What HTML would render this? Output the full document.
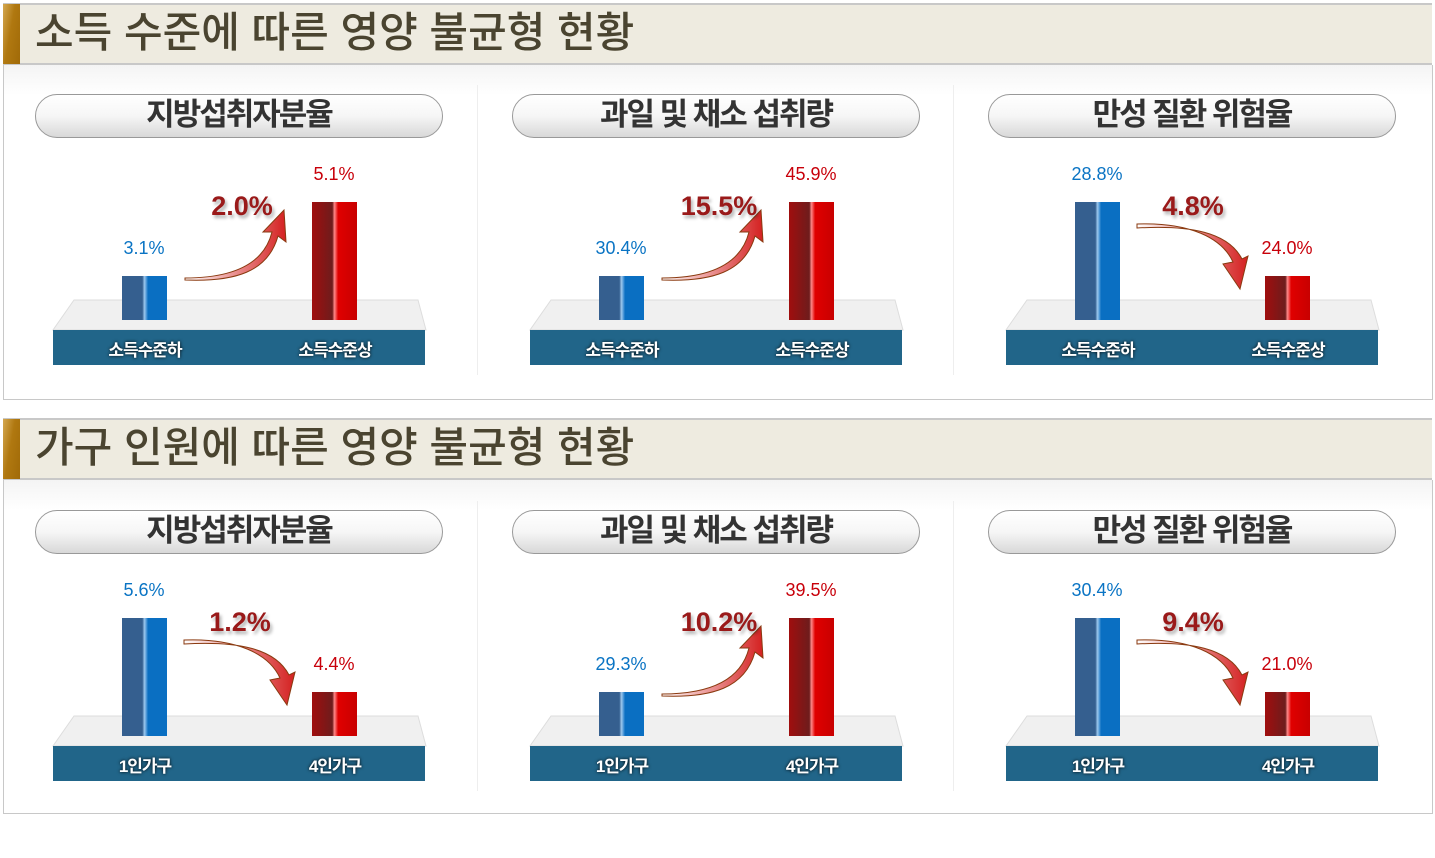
<!DOCTYPE html>
<html><head><meta charset="utf-8"><style>
body{margin:0;width:1435px;height:858px;background:#fff;position:relative;overflow:hidden;font-family:"Liberation Sans","Noto Sans CJK KR",sans-serif}
.abs{position:absolute}
.hdr{left:3px;width:1429px;height:58px;background:#eeebe0;border-top:2px solid #c8c8c8;border-bottom:2px solid #c8c8c8}
.gold{left:3px;width:17px;height:60px;background:linear-gradient(100deg,#d4a850 0%,#b07810 45%,#a06a08 100%)}
.htitle{left:35px;font-size:42px;color:#4a4430;font-weight:500;letter-spacing:0px;line-height:60px}
.panel{left:3px;width:1428px;border:1px solid #c8c8c8;border-top:none;background:linear-gradient(#f4f4f4,#fff 30px)}
.pill{width:406px;height:42px;border:1px solid #999;border-radius:22px;background:linear-gradient(#fff 0%,#f6f6f6 50%,#d8d8d8 100%);text-align:center;line-height:40px;font-size:31px;font-weight:bold;color:#333;letter-spacing:-2px}
.div{width:1px;background:#eee}
.base{width:372px;height:35px;background:#216589;color:#fff;font-size:17px;font-weight:bold;text-shadow:0 0 3px #000;letter-spacing:-1px}
.val{font-size:18px;width:100px;text-align:center}
.diff{font-size:27px;font-weight:bold;color:#9a1a1a;text-shadow:2px 3px 3px rgba(0,0,0,.3);width:120px;text-align:center}
</style></head><body>
<div class="abs hdr" style="top:3px"></div>
<div class="abs gold" style="top:4px"></div>
<div class="abs htitle" style="top:3px">소득 수준에 따른 영양 불균형 현황</div>
<div class="abs panel" style="top:65px;height:334px"></div>
<div class="abs hdr" style="top:418px"></div>
<div class="abs gold" style="top:419px"></div>
<div class="abs htitle" style="top:418px">가구 인원에 따른 영양 불균형 현황</div>
<div class="abs panel" style="top:480px;height:333px"></div>
<div id="root"></div>
<script>
const titles=["지방섭취자분율","과일 및 채소 섭취량","만성 질환 위험율"];
const catsIncome=["소득수준하","소득수준상"];
const catsHouse=["1인가구","4인가구"];
const incomeLow=[3.1,30.4,28.8];
const incomeHigh=[5.1,45.9,24.0];
const houseOne=[5.6,29.3,30.4];
const houseFour=[4.4,39.5,21.0];
const diffIncome=["2.0%","15.5%","4.8%"];
const diffHouse=["1.2%","10.2%","9.4%"];
const root=document.getElementById('root');
function mk(cls,x,y,html,style){const d=document.createElement('div');d.className='abs '+cls;d.style.left=x+'px';d.style.top=y+'px';if(style)d.style.cssText+=style;if(html!=null)d.innerHTML=html;root.appendChild(d);return d;}
function hScale(v,a,b){const mn=Math.min(a,b),mx=Math.max(a,b);return 44+(v-mn)/(mx-mn)*74;}
const colX=[0,477,953];
function section(Y0,cats,lo,hi,diffs,tag){
 for(let i=0;i<3;i++){
  const X=colX[i];
  if(i>0){const dv=mk('div',X,Y0+85,null,'height:290px');}
  const p=mk('pill',X+35,Y0+94,titles[i]);
  
  
  const svg=document.createElementNS('http://www.w3.org/2000/svg','svg');
  svg.setAttribute('width','400');svg.setAttribute('height','120');
  svg.style.cssText='position:absolute;left:'+(X+40)+'px;top:'+(Y0+200)+'px;overflow:visible';
  
  
  const up=hi[i]>lo[i];
  svg.innerHTML=`<defs><linearGradient id="ag${tag}${i}" x1="0" y1="0" x2="1" y2="0"><stop offset="0" stop-color="#fff"/><stop offset="1" stop-color="#d42020"/></linearGradient></defs>
  <polygon points="34,100 378,100 386,130 13,130" fill="#f0f0f0" stroke="#ddd"/>`+
  (up?`<path d="M145,78 C200,78 225,60 232,32 L223,32 L244,10 L246,42 L238,36 C228,72 195,82 145,80 Z" fill="url(#ag${tag}${i})" stroke="#8a3a10" stroke-width="1"/>`
     :`<path transform="translate(47,0)" d="M97,24 C150,22 182,38 193,62 L183,64 L200,89 L208,56 L202,59 C188,32 150,25 97,28 Z" fill="url(#ag${tag}${i})" stroke="#8a3a10" stroke-width="1"/>`);
  root.appendChild(svg);
  const b=mk('base',X+53,Y0+330,`<span style="position:absolute;left:${92-44}px;width:88px;text-align:center;top:6px">${cats[0]}</span><span style="position:absolute;left:${282-44}px;width:88px;text-align:center;top:6px">${cats[1]}</span>`);
  
  
  const vals=[lo[i],hi[i]];
  const bx=[X+122,X+312];
  for(let k=0;k<2;k++){
   const h=hScale(vals[k],lo[i],hi[i]);
   const top=Y0+320-h;
   const bg=k===0?'linear-gradient(90deg,#355f8f 0%,#355f8f 45%,#9cc8ee 50%,#0a6fc2 58%,#0a6fc2 100%)':'linear-gradient(90deg,#a00e0e 0%,#6e1c1c 45%,#ff8888 50%,#e00000 58%,#c80000 100%)';
   const bar=mk('',bx[k],top,null,'width:45px;height:'+h+'px;background:'+bg);
   
   
   const lb=mk('val',bx[k]-28,top-38,vals[k].toFixed(1)+'%','color:'+(k===0?'#0a74c4':'#c8000a'));
   
   
  }
  const dl=mk('diff',X+(up?182:180),Y0+191,diffs[i]);
  
  
 }
}
section(0,catsIncome,incomeLow,incomeHigh,diffIncome,'a');
section(416,catsHouse,houseOne,houseFour,diffHouse,'b');
</script>
</body></html>
